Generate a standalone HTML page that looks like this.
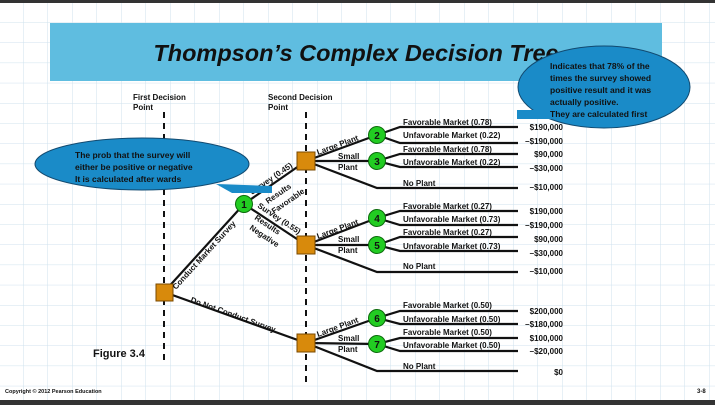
<!DOCTYPE html>
<html><head><meta charset="utf-8"><style>
html,body{margin:0;padding:0;background:#fff;}
svg{display:block;}
text{font-family:"Liberation Sans",sans-serif;font-weight:bold;fill:#111;}
</style></head><body>
<svg width="715" height="405" viewBox="0 0 715 405" xmlns="http://www.w3.org/2000/svg">
<defs>
<pattern id="g" x="-1.5" y="2" width="24.5" height="20.2" patternUnits="userSpaceOnUse">
<path d="M0 0V20.2M0 0H24.5" stroke="#cfe2ee" stroke-width="1" fill="none"/>
</pattern>
</defs>
<rect width="715" height="405" fill="#fff"/>
<rect width="715" height="405" fill="url(#g)"/>
<rect x="0" y="0" width="715" height="3" fill="#333"/>
<rect x="0" y="400" width="715" height="5" fill="#333"/>

<!-- title -->
<rect x="50" y="23" width="612" height="58" fill="#5fbde0"/>
<text x="356" y="61" font-size="23.5" font-style="italic" text-anchor="middle">Thompson’s Complex Decision Tree</text>

<!-- decision labels -->
<text x="133" y="100" font-size="8">First Decision</text>
<text x="133" y="110" font-size="8">Point</text>
<text x="268" y="100" font-size="8">Second Decision</text>
<text x="268" y="110" font-size="8">Point</text>
<line x1="164" y1="112" x2="164" y2="362" stroke="#111" stroke-width="2" stroke-dasharray="6,5"/>
<line x1="306" y1="112" x2="306" y2="385" stroke="#111" stroke-width="2" stroke-dasharray="6,5"/>

<g stroke="#111" stroke-width="2.2" fill="none">
<line x1="164" y1="292" x2="244" y2="204"/>
<line x1="164" y1="292" x2="306" y2="343"/>
<line x1="244" y1="204" x2="306" y2="161"/>
<line x1="244" y1="204" x2="306" y2="245"/>
<line x1="306" y1="161" x2="377" y2="135"/>
<line x1="306" y1="161" x2="377" y2="161"/>
<polyline points="306,161 377,188 518,188"/>
<polyline points="377,135 400,127 518,127"/>
<polyline points="377,135 400,143 518,143"/>
<polyline points="377,161 400,154 518,154"/>
<polyline points="377,161 400,167 518,167"/>
<line x1="306" y1="245" x2="377" y2="218"/>
<line x1="306" y1="245" x2="377" y2="245"/>
<polyline points="306,245 377,272 518,272"/>
<polyline points="377,218 400,211 518,211"/>
<polyline points="377,218 400,225 518,225"/>
<polyline points="377,245 400,237 518,237"/>
<polyline points="377,245 400,251 518,251"/>
<line x1="306" y1="343" x2="377" y2="318"/>
<line x1="306" y1="343" x2="377" y2="344"/>
<polyline points="306,343 377,371 518,371"/>
<polyline points="377,318 400,311 518,311"/>
<polyline points="377,318 400,324 518,324"/>
<polyline points="377,344 400,338 518,338"/>
<polyline points="377,344 400,351 518,351"/>
</g>

<g fill="#d88a0c" stroke="#7a4a00" stroke-width="1">
<rect x="156" y="284" width="17" height="17"/>
<rect x="297" y="152" width="18" height="18"/>
<rect x="297" y="236" width="18" height="18"/>
<rect x="297" y="334" width="18" height="18"/>
</g>
<g fill="#22cc22" stroke="#0a6a0a" stroke-width="1">
<circle cx="244" cy="204" r="8.5"/>
<circle cx="377" cy="135" r="8.5"/>
<circle cx="377" cy="161" r="8.5"/>
<circle cx="377" cy="218" r="8.5"/>
<circle cx="377" cy="245" r="8.5"/>
<circle cx="377" cy="318" r="8.5"/>
<circle cx="377" cy="344" r="8.5"/>
</g>
<g font-size="10" text-anchor="middle">
<text x="244" y="208">1</text><text x="377" y="139">2</text><text x="377" y="165">3</text>
<text x="377" y="222">4</text><text x="377" y="249">5</text><text x="377" y="322">6</text><text x="377" y="348">7</text>
</g>

<g font-size="8">
<text transform="translate(176,290) rotate(-47.7)">Conduct Market Survey</text>
<text transform="translate(190,302) rotate(19.8)">Do Not Conduct Survey</text>
<text transform="translate(252,195) rotate(-34.7)">Survey (0.45)</text>
<text transform="translate(268,204) rotate(-34.7)">Results</text>
<text transform="translate(274,214) rotate(-34.7)">Favorable</text>
<text transform="translate(257,207) rotate(33.5)">Survey (0.55)</text>
<text transform="translate(254,219) rotate(33.5)">Results</text>
<text transform="translate(249,229) rotate(33.5)">Negative</text>
<text transform="translate(318,155) rotate(-20)">Large Plant</text>
<text transform="translate(318,239) rotate(-20)">Large Plant</text>
<text transform="translate(318,337) rotate(-20)">Large Plant</text>
<text x="338" y="159">Small</text><text x="338" y="170">Plant</text>
<text x="338" y="242">Small</text><text x="338" y="253">Plant</text>
<text x="338" y="341">Small</text><text x="338" y="352">Plant</text>

<text x="403" y="125">Favorable Market (0.78)</text>
<text x="403" y="138">Unfavorable Market (0.22)</text>
<text x="403" y="152">Favorable Market (0.78)</text>
<text x="403" y="165">Unfavorable Market (0.22)</text>
<text x="403" y="186">No Plant</text>
<text x="403" y="209">Favorable Market (0.27)</text>
<text x="403" y="222">Unfavorable Market (0.73)</text>
<text x="403" y="235">Favorable Market (0.27)</text>
<text x="403" y="249">Unfavorable Market (0.73)</text>
<text x="403" y="269">No Plant</text>
<text x="403" y="308">Favorable Market (0.50)</text>
<text x="403" y="322">Unfavorable Market (0.50)</text>
<text x="403" y="335">Favorable Market (0.50)</text>
<text x="403" y="348">Unfavorable Market (0.50)</text>
<text x="403" y="369">No Plant</text>
</g>
<g font-size="8" text-anchor="end">
<text x="563" y="130">$190,000</text><text x="563" y="144">–$190,000</text>
<text x="563" y="157">$90,000</text><text x="563" y="171">–$30,000</text>
<text x="563" y="190">–$10,000</text>
<text x="563" y="214">$190,000</text><text x="563" y="228">–$190,000</text>
<text x="563" y="242">$90,000</text><text x="563" y="256">–$30,000</text>
<text x="563" y="274">–$10,000</text>
<text x="563" y="314">$200,000</text><text x="563" y="327">–$180,000</text>
<text x="563" y="341">$100,000</text><text x="563" y="354">–$20,000</text>
<text x="563" y="375">$0</text>
</g>

<g fill="#1a8bc8" stroke="#124a70" stroke-width="1">
<ellipse cx="604" cy="87" rx="86" ry="41"/>
<path d="M517,110 H560 V119 H517 Z" stroke="none"/>
<ellipse cx="142" cy="164" rx="107" ry="26"/>
<path d="M216,184 L272,186 L272,193 L232,193 Z" stroke="none"/>
</g>
<g font-size="8.5" fill="#111">
<text x="550" y="69">Indicates that 78% of the</text>
<text x="550" y="81">times the survey showed</text>
<text x="550" y="93">positive result and it was</text>
<text x="550" y="105">actually positive.</text>
<text x="550" y="117">They are calculated first</text>
<text x="75" y="158">The prob that the survey will</text>
<text x="75" y="170">either be positive or negative</text>
<text x="75" y="182">It is calculated after wards</text>
</g>

<text x="93" y="357" font-size="11">Figure 3.4</text>
<text x="5" y="393" font-size="5.5" font-weight="normal">Copyright © 2012 Pearson Education</text>
<text x="697" y="393" font-size="6" font-weight="normal">3-8</text>
</svg>
</body></html>
